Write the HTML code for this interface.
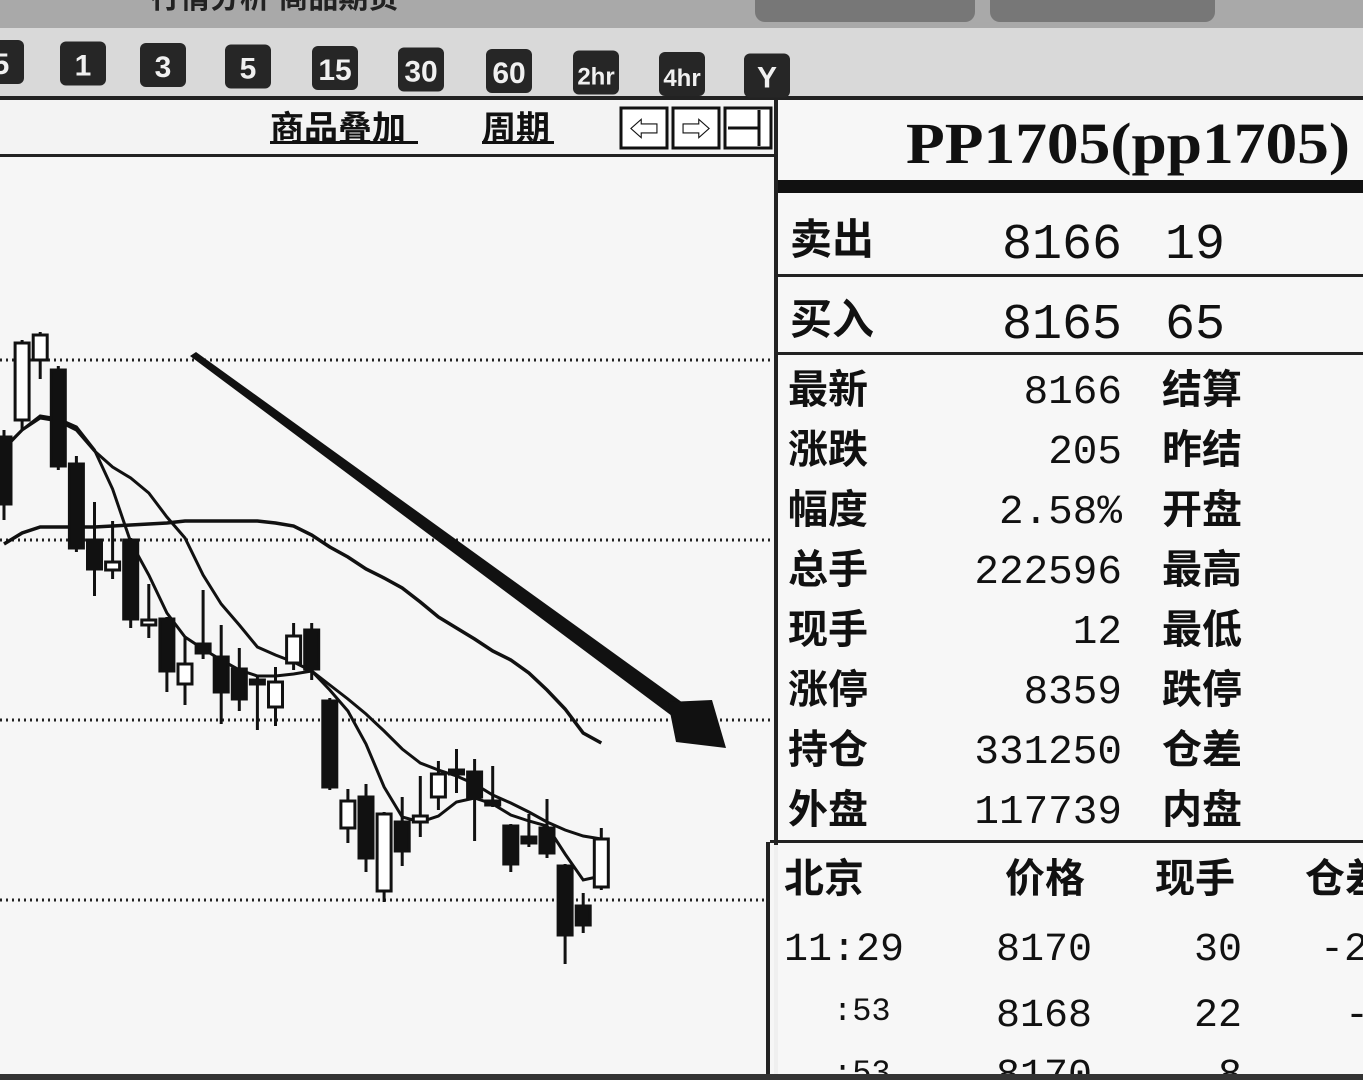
<!DOCTYPE html>
<html><head><meta charset="utf-8"><style>
html,body{margin:0;padding:0;background:#ededed;}
svg{display:block;font-family:"Liberation Sans","Noto Sans CJK SC",sans-serif;}
.m{font-family:"Liberation Mono","Noto Sans CJK SC",monospace;}
</style></head><body>
<svg id="root" width="1363" height="1080" viewBox="0 0 1363 1080" xmlns="http://www.w3.org/2000/svg">
<rect x="0" y="0" width="1363" height="1080" fill="#efefef"/>
<g>
<rect x="0" y="0" width="1363" height="28" fill="#a9a9a9"/>
<text x="150" y="8" font-size="30" font-weight="bold" fill="#222">行情分析 商品期货</text>
<rect x="755" y="-10" width="220" height="32" rx="10" fill="#777"/>
<rect x="990" y="-10" width="225" height="32" rx="10" fill="#777"/>
</g>
<g>
<rect x="0" y="28" width="1363" height="70" fill="#d9d9d9"/>
<rect x="0" y="96" width="1363" height="4" fill="#222"/>
</g>
<g id="buttons"></g>
<g>
<rect x="0" y="100" width="776" height="56" fill="#f3f3f3"/>
<text x="270" y="140" font-size="34" font-weight="bold" fill="#111">商品叠加</text>
<rect x="270" y="141" width="148" height="3" fill="#111"/>
<text x="482" y="140" font-size="34" font-weight="bold" fill="#111">周期</text>
<rect x="482" y="141" width="72" height="3" fill="#111"/>
<g><rect x="621" y="108" width="46" height="40" fill="#fff" stroke="#111" stroke-width="3"/><text x="644" y="140" font-size="30" text-anchor="middle" fill="#111">⇦</text></g>
<g><rect x="673" y="108" width="46" height="40" fill="#fff" stroke="#111" stroke-width="3"/><text x="696" y="140" font-size="30" text-anchor="middle" fill="#111">⇨</text></g>
<g><rect x="725" y="108" width="46" height="40" fill="#fff" stroke="#111" stroke-width="3"/><line x1="728" y1="128" x2="758" y2="128" stroke="#111" stroke-width="3"/><line x1="759" y1="110" x2="759" y2="146" stroke="#111" stroke-width="3"/></g>
<rect x="0" y="154" width="776" height="3" fill="#222"/>
</g>
<g>
<rect x="0" y="157" width="774" height="920" fill="#f6f6f6"/>
<g id="grid"></g>
<g id="malines"></g>
<g id="candles"></g>
<g>
<polygon points="190,356 196,352 690,708 680,722" fill="#111"/>
<polygon points="668,702 712,700 726,748 676,742" fill="#111"/>
</g>
</g>
<rect x="774" y="100" width="4" height="745" fill="#222"/>
<rect x="766" y="842" width="4" height="238" fill="#222"/>
<g>
<rect x="778" y="100" width="585" height="980" fill="#f7f7f7"/>
<text x="906" y="163" font-family="Liberation Serif, serif" font-size="58" font-weight="bold" fill="#111" textLength="444" lengthAdjust="spacingAndGlyphs">PP1705(pp1705)</text>
<rect x="778" y="180" width="585" height="13" fill="#111"/>
<g font-size="50" fill="#111">
<text x="790" y="254" font-size="42" font-weight="bold">卖出</text>
<text class="m" x="1122" y="258" text-anchor="end">8166</text><text class="m" x="1165" y="258">19</text>
<rect x="778" y="274" width="585" height="3" fill="#222"/>
<text x="790" y="334" font-size="42" font-weight="bold">买入</text>
<text class="m" x="1122" y="338" text-anchor="end">8165</text><text class="m" x="1165" y="338">65</text>
<rect x="778" y="352" width="585" height="3" fill="#222"/>
</g>
<g id="stats" font-size="40" fill="#111"></g>
<rect x="770" y="840" width="593" height="3" fill="#222"/>
<g font-size="40" fill="#111">
<text x="784" y="892" font-weight="bold">北京</text><text x="1005" y="892" font-weight="bold">价格</text><text x="1155" y="892" font-weight="bold">现手</text><text x="1305" y="892" font-weight="bold">仓差</text>
<text class="m" x="784" y="960">11:29</text><text class="m" x="1092" y="960" text-anchor="end">8170</text><text class="m" x="1242" y="960" text-anchor="end">30</text><text class="m" x="1320" y="960">-2</text>
<text class="m" x="833" y="1020" font-size="32">:53</text><text class="m" x="1092" y="1026" text-anchor="end">8168</text><text class="m" x="1242" y="1026" text-anchor="end">22</text><text class="m" x="1345" y="1026">-</text>
<text class="m" x="833" y="1082" font-size="32">:53</text><text class="m" x="1092" y="1086" text-anchor="end">8170</text><text class="m" x="1242" y="1086" text-anchor="end">8</text>
</g>
</g>
<rect x="0" y="1074" width="1363" height="6" fill="#333"/>
</svg>
<script>
const NS="http://www.w3.org/2000/svg";
const opens=[8563,8580,8640,8630,8536,8460,8430,8460,8375,8381,8316,8356,8343,8331,8320,8293,8337,8370,8299,8172,8203,8109,8178,8178,8203,8230,8228,8199,8174,8163,8172,8134,8094,8113];
const closes=[8496,8657,8665,8534,8452,8431,8438,8381,8380,8329,8336,8347,8308,8301,8316,8318,8364,8331,8213,8199,8142,8186,8149,8184,8226,8226,8203,8195,8136,8157,8147,8065,8075,8161];
const highs=[8570,8660,8668,8634,8544,8498,8479,8462,8416,8383,8364,8410,8375,8352,8324,8333,8377,8377,8302,8211,8216,8188,8203,8224,8239,8251,8241,8234,8176,8186,8201,8136,8107,8172];
const lows=[8480,8570,8621,8530,8448,8404,8421,8372,8362,8308,8295,8341,8276,8289,8270,8274,8330,8320,8210,8157,8128,8098,8134,8163,8190,8207,8159,8193,8128,8153,8142,8036,8067,8110];
const ma5=[8552,8570,8584,8581,8573,8550,8511,8458,8425,8387,8363,8351,8340,8330,8324,8324,8326,8329,8310,8289,8256,8213,8183,8178,8184,8198,8202,8196,8185,8179,8174,8146,8120,8124];
const ma10=[8551,8570,8582,8579,8570,8549,8533,8522,8507,8483,8462,8425,8396,8375,8353,8345,8338,8329,8315,8301,8286,8269,8251,8237,8230,8224,8216,8205,8197,8188,8178,8170,8164,8161];
const ma60=[8456,8467,8473,8473,8473,8473,8474,8475,8476,8477,8479,8479,8479,8479,8479,8477,8474,8465,8453,8443,8431,8422,8412,8398,8383,8372,8361,8349,8340,8327,8310,8291,8267,8257];
const gridPrices=[8640,8460,8280,8100];
const periods=["5","1","3","5","15","30","60","2hr","4hr","Y"];
const statLabels=["最新","涨跌","幅度","总手","现手","涨停","持仓","外盘"];
const statValues=["8166","205","2.58%","222596","12","8359","331250","117739"];
const statLabels2=["结算","昨结","开盘","最高","最低","跌停","仓差","内盘"];

const yS=p=>9000-p;
const xS=i=>4+i*18.1;
function mk(tag,attrs,parent){const e=document.createElementNS(NS,tag);for(const k in attrs)e.setAttribute(k,attrs[k]);parent.appendChild(e);return e;}

const grid=document.getElementById('grid');
gridPrices.forEach(p=>{
  const l=mk('line',{x1:0,x2:772,y1:yS(p),y2:yS(p),stroke:'#222','stroke-width':3,'stroke-dasharray':'2 4'},grid);
  
  
});

const ml=document.getElementById('malines');
[[ma5,3,'ma5-line'],[ma10,3,'ma10-line'],[ma60,3.5,'ma60-line']].forEach(([arr,w,n])=>{
  const pts=arr.map((v,i)=>xS(i)+','+yS(v)).join(' ');
  const pl=mk('polyline',{points:pts,fill:'none',stroke:'#111','stroke-width':w},ml);
  
  
});

const cg=document.getElementById('candles');
opens.forEach((o,i)=>{
  const c=closes[i],x=xS(i),up=c>=o;
  const g=mk('g',{},cg);
  
  
  mk('line',{x1:x,x2:x,y1:yS(highs[i]),y2:yS(lows[i]),stroke:'#111','stroke-width':3},g);
  const top=yS(Math.max(o,c)),h=Math.max(3,Math.abs(o-c));
  mk('rect',{x:x-7,y:top,width:14,height:h,fill:up?'#fff':'#111',stroke:'#111','stroke-width':3},g);
});

const bg=document.getElementById('buttons');
const bx=[-22,60,140,225,312,398,486,573,659,744];
periods.forEach((t,i)=>{
  const g=mk('g',{},bg);
  
  
  mk('rect',{x:bx[i],y:40+i*1.5,width:46,height:44,rx:6,fill:'#262626'},g);
  const tx=mk('text',{x:bx[i]+23,y:74+i*1.5,'font-size':t.length>2?24:30,'font-weight':'bold','text-anchor':'middle',fill:'#f0f0f0'},g);
  tx.textContent=t;
});

const sg=document.getElementById('stats');
statLabels.forEach((l,i)=>{
  const y=403+i*60;
  const a=mk('text',{x:788,y:y,'font-weight':'bold'},sg);a.textContent=l;
  
  
  const b=mk('text',{x:1122,y:y,'text-anchor':'end','class':'m','font-size':41},sg);b.textContent=statValues[i];
  
  
  const c=mk('text',{x:1162,y:y,'font-weight':'bold'},sg);c.textContent=statLabels2[i];
  
  
});
</script>
</body></html>
